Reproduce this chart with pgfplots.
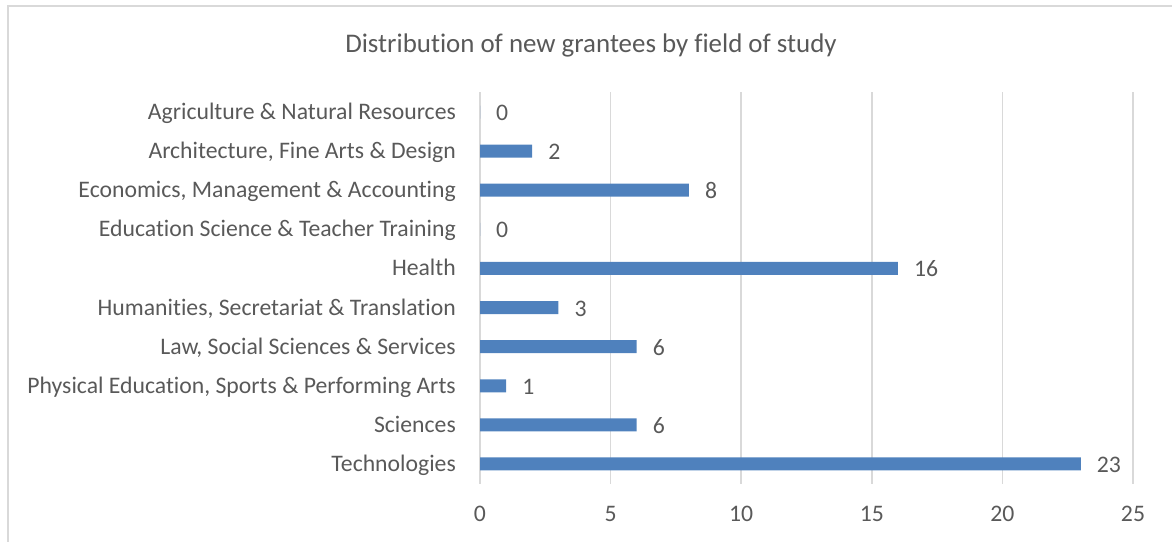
\documentclass[border=0pt]{standalone}
\usepackage{pgfplots}
\pgfplotsset{compat=1.18}
\usepackage{fontspec}
\setmainfont{Carlito}[Ligatures={NoCommon}]
\definecolor{barblue}{HTML}{4F81BD}
\definecolor{txt}{HTML}{595959}
\definecolor{gridc}{HTML}{D9D9D9}
\begin{document}
\begin{tikzpicture}
\useasboundingbox (0,0) rectangle (1172bp,542bp);
\draw[gridc, line width=1.5bp] (8bp,0) -- (8bp,536bp) -- (1172bp,536bp);
\node[txt, anchor=base, inner sep=0pt, font=\fontsize{27}{32}\selectfont] at (591bp, 489.7bp) {Distribution of new grantees by field of study};
\begin{axis}[
  at={(480bp,58.5bp)}, anchor=south west,
  scale only axis, width=653bp, height=391bp,
  xbar, bar width=13bp,
  xmin=0, xmax=25, ymin=-0.5, ymax=9.5, y dir=reverse,
  /pgf/number format/assume math mode=true,
  ytick={0,...,9},
  yticklabels={Agriculture \& Natural Resources, {Architecture, Fine Arts \& Design}, {Economics, Management \& Accounting}, Education Science \& Teacher Training, Health, {Humanities, Secretariat \& Translation}, {Law, Social Sciences \& Services}, {Physical Education, Sports \& Performing Arts}, Sciences, Technologies},
  xtick={0,5,...,25},
  axis line style={draw=none},
  major tick length=0pt,
  xmajorgrids, grid style={gridc, line width=1.5bp},
  tick label style={text=txt, font=\fontsize{23.8}{28}\selectfont, inner sep=0pt},
  xticklabel style={anchor=base, yshift=-38.2bp},
  yticklabel style={anchor=base east, xshift=-24bp, yshift=-7.5bp},
  nodes near coords,
  every node near coord/.append style={anchor=base west, inner sep=0pt, xshift=16bp, yshift=-8.5bp, text=txt, font=\fontsize{23.8}{28}\selectfont},
  clip=false,
]
\addplot[fill=barblue, draw=none] coordinates {
(0,0) (2,1) (8,2) (0,3) (16,4) (3,5) (6,6) (1,7) (6,8) (23,9)
};
\end{axis}
\end{tikzpicture}
\end{document}
